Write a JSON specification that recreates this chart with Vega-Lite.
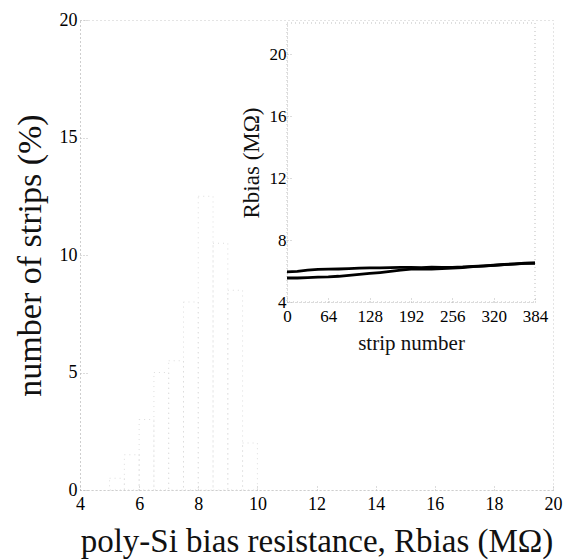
{
  "$schema": "https://vega.github.io/schema/vega-lite/v6.json",
  "width": 473,
  "height": 470,
  "autosize": "none",
  "padding": {"left": 80, "top": 20, "right": 10, "bottom": 70},
  "background": "white",
  "config": {
    "font": "Liberation Serif",
    "view": {"stroke": "#c8c8c8", "strokeDash": [1, 3]},
    "axis": {
      "grid": false,
      "labelFont": "Liberation Serif",
      "titleFont": "Liberation Serif",
      "labelColor": "#000",
      "titleColor": "#111",
      "titleFontWeight": "normal",
      "labelFlush": false,
      "labelOverlap": false,
      "domainColor": "#b8b8b8",
      "domainDash": [1, 3],
      "tickColor": "#b8b8b8",
      "tickDash": [1, 2]
    }
  },
  "layer": [
    {
      "data": {
        "values": [
          {"lo": 5.0, "hi": 5.5, "pct": 0.5},
          {"lo": 5.5, "hi": 6.0, "pct": 1.5},
          {"lo": 6.0, "hi": 6.5, "pct": 3.0},
          {"lo": 6.5, "hi": 7.0, "pct": 5.0},
          {"lo": 7.0, "hi": 7.5, "pct": 5.5},
          {"lo": 7.5, "hi": 8.0, "pct": 8.0},
          {"lo": 8.0, "hi": 8.5, "pct": 12.5},
          {"lo": 8.5, "hi": 9.0, "pct": 10.5},
          {"lo": 9.0, "hi": 9.5, "pct": 8.5},
          {"lo": 9.5, "hi": 10.0, "pct": 2.0}
        ]
      },
      "mark": {"type": "rect", "fill": "white", "fillOpacity": 0, "stroke": "#dcdcdc", "strokeWidth": 1, "strokeDash": [1, 4]},
      "encoding": {
        "x": {
          "field": "lo", "type": "quantitative",
          "scale": {"domain": [4, 20], "nice": false, "zero": false},
          "axis": {
            "orient": "bottom", "values": [4, 6, 8, 10, 12, 14, 16, 18, 20],
            "labelFont": "Liberation Serif", "labelFontSize": 18, "labelPadding": 11, "tickSize": -6,
            "title": "poly-Si bias resistance, Rbias (MΩ)",
            "titleFont": "Liberation Serif", "titleFontSize": 33, "titlePadding": 12
          }
        },
        "x2": {"field": "hi"},
        "y": {
          "field": "pct", "type": "quantitative",
          "scale": {"domain": [0, 20], "nice": false},
          "axis": {
            "orient": "left", "values": [0, 5, 10, 15, 20],
            "labelFont": "Liberation Serif", "labelFontSize": 18, "labelPadding": 11, "tickSize": -8,
            "title": "number of strips (%)",
            "titleFont": "Liberation Serif", "titleFontSize": 34, "titlePadding": 12
          }
        },
        "y2": {"datum": 0}
      }
    },
    {
      "layer": [
        {
          "data": {"values": [{"s0": 0, "s1": 384, "r0": 4, "r1": 22}]},
          "mark": {"type": "rect", "fill": "white", "fillOpacity": 0, "stroke": "#bdbdbd", "strokeWidth": 1, "strokeDash": [1, 3]},
          "encoding": {
            "x": {"field": "s0", "type": "quantitative", "title": "strip number"},
            "x2": {"field": "s1"},
            "y": {"field": "r0", "type": "quantitative", "title": "Rbias (MΩ)"},
            "y2": {"field": "r1"}
          }
        },
        {
          "data": {
            "values": [
              {"strip": 0, "R": 5.95, "series": "A"},
              {"strip": 16, "R": 5.97, "series": "A"},
              {"strip": 32, "R": 6.05, "series": "A"},
              {"strip": 48, "R": 6.1, "series": "A"},
              {"strip": 64, "R": 6.12, "series": "A"},
              {"strip": 80, "R": 6.13, "series": "A"},
              {"strip": 96, "R": 6.15, "series": "A"},
              {"strip": 112, "R": 6.18, "series": "A"},
              {"strip": 128, "R": 6.2, "series": "A"},
              {"strip": 144, "R": 6.2, "series": "A"},
              {"strip": 160, "R": 6.22, "series": "A"},
              {"strip": 176, "R": 6.24, "series": "A"},
              {"strip": 192, "R": 6.24, "series": "A"},
              {"strip": 208, "R": 6.22, "series": "A"},
              {"strip": 224, "R": 6.25, "series": "A"},
              {"strip": 240, "R": 6.23, "series": "A"},
              {"strip": 256, "R": 6.24, "series": "A"},
              {"strip": 272, "R": 6.26, "series": "A"},
              {"strip": 288, "R": 6.3, "series": "A"},
              {"strip": 304, "R": 6.33, "series": "A"},
              {"strip": 320, "R": 6.37, "series": "A"},
              {"strip": 336, "R": 6.42, "series": "A"},
              {"strip": 352, "R": 6.46, "series": "A"},
              {"strip": 368, "R": 6.5, "series": "A"},
              {"strip": 384, "R": 6.52, "series": "A"},
              {"strip": 0, "R": 5.55, "series": "B"},
              {"strip": 16, "R": 5.55, "series": "B"},
              {"strip": 32, "R": 5.57, "series": "B"},
              {"strip": 48, "R": 5.6, "series": "B"},
              {"strip": 64, "R": 5.62, "series": "B"},
              {"strip": 80, "R": 5.66, "series": "B"},
              {"strip": 96, "R": 5.72, "series": "B"},
              {"strip": 112, "R": 5.78, "series": "B"},
              {"strip": 128, "R": 5.84, "series": "B"},
              {"strip": 144, "R": 5.9, "series": "B"},
              {"strip": 160, "R": 5.97, "series": "B"},
              {"strip": 176, "R": 6.05, "series": "B"},
              {"strip": 192, "R": 6.12, "series": "B"},
              {"strip": 208, "R": 6.14, "series": "B"},
              {"strip": 224, "R": 6.12, "series": "B"},
              {"strip": 240, "R": 6.16, "series": "B"},
              {"strip": 256, "R": 6.18, "series": "B"},
              {"strip": 272, "R": 6.22, "series": "B"},
              {"strip": 288, "R": 6.28, "series": "B"},
              {"strip": 304, "R": 6.32, "series": "B"},
              {"strip": 320, "R": 6.36, "series": "B"},
              {"strip": 336, "R": 6.41, "series": "B"},
              {"strip": 352, "R": 6.45, "series": "B"},
              {"strip": 368, "R": 6.49, "series": "B"},
              {"strip": 384, "R": 6.5, "series": "B"}
            ]
          },
          "mark": {"type": "line", "color": "black", "strokeWidth": 2.8},
          "encoding": {
            "x": {
              "field": "strip", "type": "quantitative", "title": "strip number",
              "scale": {"domain": [0, 384], "range": [207, 455], "nice": false, "zero": false},
              "axis": {
                "orient": "bottom", "offset": -188, "values": [0, 64, 128, 192, 256, 320, 384],
                "labelFont": "Liberation Serif", "labelFontSize": 17, "labelPadding": 10, "tickSize": -4,
                "titleFont": "Liberation Serif", "titleFontSize": 21, "titlePadding": 8
              }
            },
            "y": {
              "field": "R", "type": "quantitative", "title": "Rbias (MΩ)",
              "scale": {"domain": [4, 22], "range": [282, 3], "nice": false, "zero": false},
              "axis": {
                "orient": "left", "offset": -207, "values": [4, 8, 12, 16, 20],
                "labelFont": "Liberation Serif", "labelFontSize": 17, "labelPadding": 5, "tickSize": -4,
                "titleFont": "Liberation Serif", "titleFontSize": 23, "titlePadding": 6
              }
            },
            "detail": {"field": "series", "type": "nominal"}
          }
        }
      ]
    }
  ],
  "resolve": {"scale": {"x": "independent", "y": "independent"}}
}
